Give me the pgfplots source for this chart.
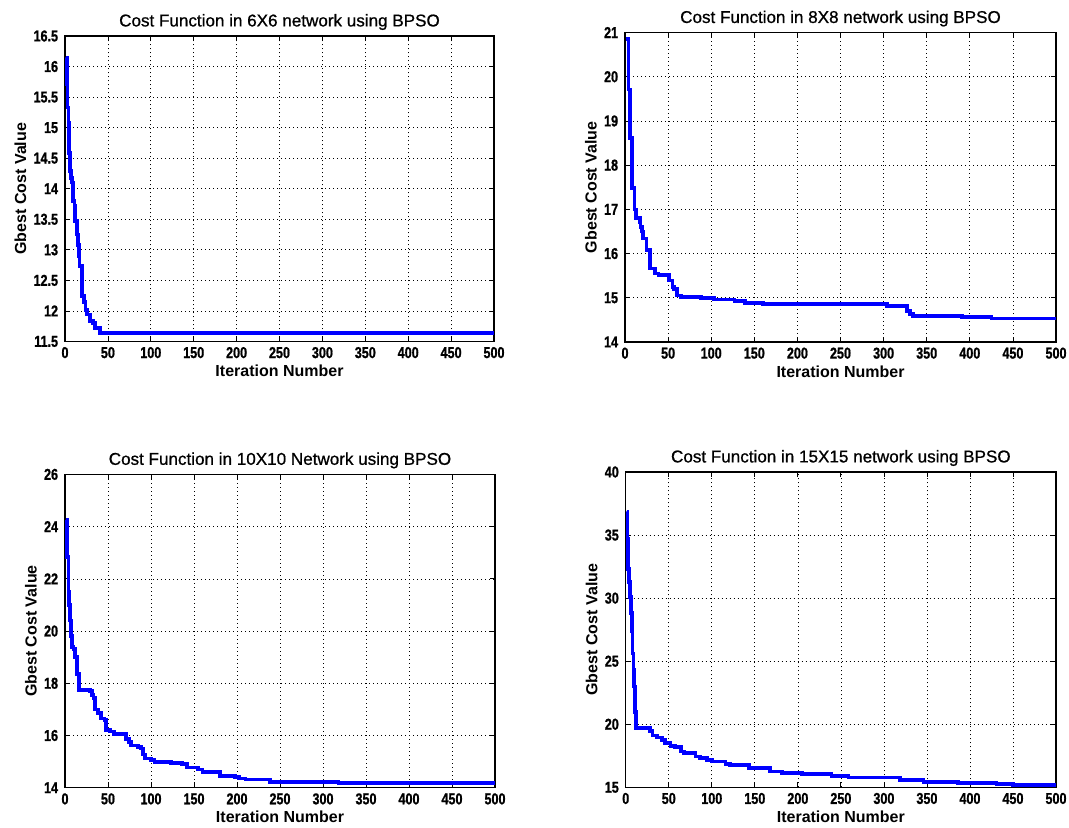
\documentclass[border=0pt]{standalone}
\usepackage{fontspec}
\setmainfont{Liberation Sans}
\newfontfamily\tickfont[FakeStretch=0.8, BoldFeatures={FakeBold=1}]{Liberation Sans}
\newfontfamily\titlefont[FakeBold=0.8]{Liberation Sans}
\usepackage{pgfplots}
\pgfplotsset{compat=1.18}
\pgfplotsset{
  matlab/.style={
    scale only axis,
    anchor=south west,
    xmin=0, xmax=500,
    xtick={0,50,...,500},
    grid=major,
    major grid style={black, line width=0.5pt, dash pattern=on 0.75pt off 2.25pt},
    tick align=inside,
    xtick pos=both, ytick pos=both,
    major tick length=4pt,
    tick style={black, line width=0.6pt},
    axis line style={black, line width=0.8pt},
    /pgf/number format/assume math mode=true,
    ticklabel style={font=\tickfont\bfseries\fontsize{11.8}{12}\selectfont},
    xticklabel style={inner sep=1pt, yshift=-3pt},
    yticklabel style={inner sep=1pt, xshift=-4pt},
    label style={font=\bfseries\fontsize{12}{13}\selectfont},
    xlabel={Iteration Number},
    ylabel={Gbest Cost Value},
    xlabel style={yshift=-0.5pt},
    ylabel style={yshift=1pt},
    title style={font=\titlefont\fontsize{12.8}{14}\selectfont, yshift=-5pt},
    /pgf/number format/.cd, fixed, precision=1,
  },
  bline/.style={const plot, color={rgb,255:red,0;green,0;blue,255}, line width=2.8pt, no marks, line join=miter},
}
\begin{document}
\begin{tikzpicture}
\path (0,0) rectangle (801.75pt,619.5pt);

% Top-left 6X6
\begin{axis}[matlab, at={(48.75pt,363.4pt)}, width=321.75pt, height=229.1pt,
  ymin=11.5, ymax=16.5, ytick={11.5,12,...,16.5},
  title={Cost Function in 6X6 network using BPSO}]
\addplot[bline] coordinates {
(1,16.15) (2,15.72) (3,15.33) (4,15.08) (5,14.59) (6,14.29) (7,14.18) (8,14.1)
(9,13.8) (11,13.72) (12,13.47) (14,13.25) (15,13.08) (16,12.9) (17,12.73)
(20,12.24) (22,12.15) (24,12.02) (26,11.94) (29,11.83) (33,11.8) (35,11.72)
(41,11.64) (500,11.64)};
\end{axis}

% Top-right 8X8
\begin{axis}[matlab, at={(468.75pt,363pt)}, width=323.25pt, height=232.1pt,
  ymin=14, ymax=21, ytick={14,15,...,21},
  title={Cost Function in 8X8 network using BPSO}]
\addplot[bline] coordinates {
(1,20.85) (4,19.71) (6,18.61) (8,17.48) (11,17.0) (13,16.8) (17,16.7) (18,16.6)
(20,16.5) (21,16.34) (25,16.08) (29,15.66) (35,15.55) (39,15.51) (51,15.39)
(55,15.24) (57,15.2) (60,15.05) (65,15.02) (88,14.99) (103,14.96) (127,14.92)
(139,14.88) (160,14.86) (304,14.82) (327,14.70) (331,14.64) (334,14.58)
(391,14.56) (425,14.53) (500,14.53)};
\end{axis}

% Bottom-left 10X10
\begin{axis}[matlab, at={(48.75pt,28.7pt)}, width=322.5pt, height=235pt,
  ymin=14, ymax=26, ytick={14,16,...,26},
  title={Cost Function in 10X10 Network using BPSO}]
\addplot[bline] coordinates {
(1,24.25) (2,22.85) (4,21.5) (5,21.0) (6,20.4) (7,19.8) (8,19.4) (10,19.3)
(12,19.0) (14,18.35) (16,17.75) (29,17.7) (31,17.55) (33,17.45) (35,17.0)
(38,16.85) (42,16.65) (46,16.6) (48,16.2) (52,16.15) (57,16.05) (71,15.87)
(74,15.75) (77,15.62) (85,15.55) (88,15.5) (91,15.27) (93,15.12) (100,15.07)
(104,14.98) (123,14.95) (136,14.9) (142,14.77) (155,14.7) (160,14.6)
(180,14.45) (198,14.42) (202,14.35) (210,14.32) (238,14.22) (318,14.19)
(500,14.19)};
\end{axis}

% Bottom-right 15X15
\begin{axis}[matlab, at={(469.3pt,29pt)}, width=322.7pt, height=236.5pt,
  ymin=15, ymax=40, ytick={15,20,...,40},
  title={Cost Function in 15X15 network using BPSO}]
\addplot[bline] coordinates {
(1,36.86) (2,34.7) (3,32.3) (4,31.3) (5,30.1) (6,28.8) (7,27.35) (8,25.6)
(9,24.3) (10,23.0) (11,21.0) (12,19.7) (28,19.45) (31,19.1) (36,18.95)
(42,18.75) (46,18.5) (52,18.3) (57,18.2) (64,17.85) (68,17.7) (81,17.45)
(86,17.3) (94,17.15) (100,17.05) (116,16.87) (121,16.78) (143,16.53)
(168,16.26) (182,16.13) (205,16.05) (239,15.9) (259,15.78) (319,15.58)
(346,15.45) (386,15.37) (431,15.26) (450,15.16) (500,15.16)};
\end{axis}
\end{tikzpicture}
\end{document}
